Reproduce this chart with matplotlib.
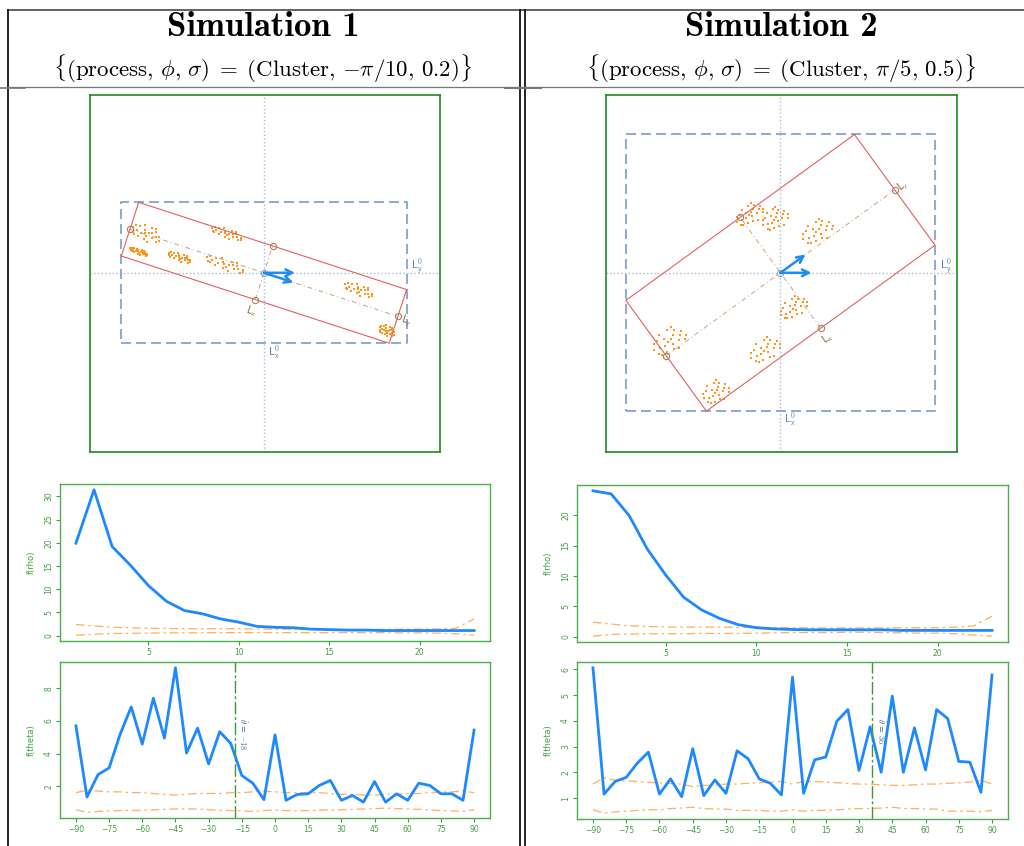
import os
import numpy as np
import matplotlib
matplotlib.use("Agg")
import matplotlib.pyplot as plt
from matplotlib.font_manager import FontProperties

plt.rcParams['mathtext.fontset'] = 'cm'

W, H = 1024, 846

# --- simulation settings ---------------------------------------------
sim_titles = ["Simulation 1", "Simulation 2"]
sim_params = [r"$\{(\mathrm{process},\,\phi,\,\sigma)\;=\;(\mathrm{Cluster},\,{-}\pi/10,\,0.2)\}$",
              r"$\{(\mathrm{process},\,\phi,\,\sigma)\;=\;(\mathrm{Cluster},\,\pi/5,\,0.5)\}$"]
phi_deg = [-18, 36]
rect_len = [2.0, 2.0]
rect_wid = [0.40, 0.97]
theta_hat = [-18, 36]

# cluster centres / half-extents / orientation (deg)
clusters1 = [(-0.84, 0.28, 0.11, 0.06, -18), (-0.89, 0.15, 0.07, 0.02, -18),
             (-0.60, 0.11, 0.09, 0.03, -18), (-0.28, 0.06, 0.15, 0.04, -18),
             (-0.27, 0.28, 0.12, 0.035, -18), (0.67, -0.12, 0.11, 0.04, -18),
             (0.87, -0.41, 0.06, 0.04, -18)]
clusters2 = [(-0.22, 0.41, 0.11, 0.07, 36), (-0.04, 0.38, 0.10, 0.08, 36),
             (0.26, 0.29, 0.12, 0.08, 36), (0.09, -0.25, 0.11, 0.07, 36),
             (-0.79, -0.49, 0.13, 0.09, 36), (-0.11, -0.55, 0.12, 0.08, 36),
             (-0.46, -0.85, 0.10, 0.08, 36)]
# point pattern inside a cluster (unit extents)
pattern = [(-0.9, 0.2), (-0.7, -0.5), (-0.5, 0.6), (-0.3, -0.1), (-0.1, 0.4),
           (0.0, -0.7), (0.2, 0.1), (0.3, 0.8), (0.5, -0.3), (0.6, 0.5),
           (0.8, -0.6), (0.9, 0.1), (-0.6, 0.0), (0.1, -0.3), (0.4, 0.3),
           (-0.2, 0.9), (0.7, -0.1), (-0.8, -0.3), (-0.4, -0.6), (0.25, -0.9),
           (-0.05, 0.0), (0.55, 0.85), (-0.75, 0.55), (0.95, -0.35)]

# --- K-function style curves ----------------------------------------
rho = list(range(1, 24))
rho1 = [19.9, 31.4, 19.2, 15.2, 10.8, 7.4, 5.4, 4.7, 3.6, 2.9, 2.0, 1.8, 1.7, 1.4,
        1.3, 1.2, 1.2, 1.1, 1.1, 1.1, 1.1, 1.1, 1.1]
rho1_hi = [2.4, 2.1, 1.8, 1.7, 1.6, 1.55, 1.5, 1.5, 1.5, 1.5, 1.45, 1.4, 1.4, 1.35,
           1.3, 1.3, 1.3, 1.35, 1.4, 1.4, 1.45, 1.6, 3.6]
rho1_lo = [0.1, 0.3, 0.45, 0.5, 0.55, 0.6, 0.6, 0.6, 0.65, 0.65, 0.65, 0.65, 0.65,
           0.65, 0.65, 0.65, 0.65, 0.65, 0.6, 0.6, 0.55, 0.4, 0.1]
rho2 = [24.0, 23.5, 19.9, 14.4, 10.2, 6.5, 4.4, 3.0, 2.0, 1.5, 1.3, 1.2, 1.15, 1.15,
        1.15, 1.15, 1.15, 1.05, 1.05, 1.05, 1.05, 1.05, 1.05]
rho2_hi = [2.4, 2.1, 1.8, 1.7, 1.6, 1.6, 1.6, 1.6, 1.55, 1.5, 1.5, 1.5, 1.45, 1.45,
           1.45, 1.45, 1.45, 1.5, 1.5, 1.5, 1.6, 1.8, 3.4]
rho2_lo = [0.1, 0.4, 0.45, 0.5, 0.5, 0.5, 0.55, 0.55, 0.55, 0.6, 0.65, 0.7, 0.7, 0.7,
           0.75, 0.75, 0.7, 0.65, 0.6, 0.6, 0.5, 0.3, 0.1]

theta = list(range(-90, 91, 5))
theta1 = [5.70, 1.33, 2.71, 3.12, 5.19, 6.86, 4.58, 7.39, 4.95, 9.26,
          4.03, 5.56, 3.36, 5.34, 4.62, 2.65, 2.18, 1.17, 5.15, 1.13,
          1.49, 1.53, 2.04, 2.35, 1.13, 1.43, 1.02, 2.28, 1.02, 1.53,
          1.13, 2.18, 2.04, 1.53, 1.53, 1.13, 5.44]
theta1_hi = [1.6, 1.75, 1.7, 1.65, 1.65, 1.6, 1.6, 1.55, 1.5, 1.45,
             1.5, 1.55, 1.55, 1.55, 1.6, 1.6, 1.65, 1.7, 1.65, 1.6,
             1.6, 1.6, 1.6, 1.55, 1.5, 1.5, 1.45, 1.45, 1.5, 1.5,
             1.55, 1.55, 1.6, 1.65, 1.65, 1.7, 1.6]
theta1_lo = [0.55, 0.4, 0.45, 0.48, 0.5, 0.52, 0.52, 0.55, 0.58, 0.6,
             0.6, 0.6, 0.55, 0.52, 0.5, 0.48, 0.45, 0.5, 0.55, 0.5,
             0.48, 0.5, 0.52, 0.55, 0.55, 0.58, 0.6, 0.62, 0.65, 0.62,
             0.6, 0.58, 0.55, 0.5, 0.48, 0.45, 0.55]
theta2 = [6.06, 1.16, 1.65, 1.81, 2.36, 2.79, 1.16, 1.75, 1.06, 2.92,
          1.10, 1.71, 1.19, 2.84, 2.53, 1.75, 1.58, 1.13, 5.70, 1.19,
          2.49, 2.60, 3.99, 4.44, 2.08, 3.77, 2.01, 4.96, 2.01, 3.73,
          2.10, 4.44, 4.09, 2.43, 2.40, 1.23, 5.78]
theta2_hi = [1.55, 1.8, 1.7, 1.68, 1.65, 1.62, 1.6, 1.57, 1.55, 1.45,
             1.5, 1.5, 1.55, 1.55, 1.58, 1.6, 1.63, 1.65, 1.55, 1.65,
             1.65, 1.62, 1.6, 1.57, 1.55, 1.55, 1.52, 1.5, 1.5, 1.52,
             1.55, 1.55, 1.58, 1.6, 1.63, 1.7, 1.55]
theta2_lo = [0.55, 0.42, 0.47, 0.5, 0.53, 0.55, 0.55, 0.6, 0.62, 0.65,
             0.6, 0.58, 0.58, 0.53, 0.53, 0.53, 0.5, 0.5, 0.55, 0.5,
             0.53, 0.53, 0.55, 0.58, 0.6, 0.6, 0.62, 0.65, 0.6, 0.6,
             0.58, 0.58, 0.5, 0.5, 0.5, 0.48, 0.53]

BLUE = '#1e88ff'
ORANGE = '#ffa040'
GREEN = '#4cae4c'
TICKGREEN = '#3f9f3f'

title_font = FontProperties(fname=os.path.join(matplotlib.get_data_path(),
                                               'fonts', 'ttf', 'cmb10.ttf'), size=25)

fig = plt.figure(figsize=(W / 100, H / 100), dpi=100)


def px_axes(x0, y0, x1, y1):
    return fig.add_axes([x0 / W, 1 - y1 / H, (x1 - x0) / W, (y1 - y0) / H])


# table rules
bg = fig.add_axes([0, 0, 1, 1])
bg.set_xlim(0, W)
bg.set_ylim(H, 0)
bg.axis('off')
bg.plot([8, W], [10, 10], color='#555555', lw=1.3)
bg.plot([8, 8], [10, H], color='black', lw=1.2)
bg.plot([520, 520], [10, H], color='black', lw=1.2)
bg.plot([525, 525], [10, H], color='black', lw=1.2)
bg.plot([8, W], [87, 87], color='#777777', lw=0.9)
bg.plot([0, 25], [88.5, 88.5], color='#777777', lw=1.2)
bg.plot([505, 541], [88.5, 88.5], color='#777777', lw=1.5)

for cx, title, sub in zip([263, 781], sim_titles, sim_params):
    fig.text(cx / W, 1 - 28 / H, title, ha='center', va='center',
             fontproperties=title_font)
    fig.text(cx / W, 1 - 69 / H, sub, ha='center', va='center', fontsize=16.5)


def draw_window(ax, phi, L, w, clusters):
    a = np.deg2rad(phi)
    u = np.array([np.cos(a), np.sin(a)])
    v = np.array([-np.sin(a), np.cos(a)])
    corners = [s1 * L / 2 * u + s2 * w / 2 * v for s1, s2 in [(1, 1), (-1, 1), (-1, -1), (1, -1), (1, 1)]]
    corners = np.array(corners)
    xmax, ymax = corners[:, 0].max(), corners[:, 1].max()

    ax.axvline(0, color='#a8bcd8', ls=':', lw=1)
    ax.axhline(0, color='#a8bcd8', ls=':', lw=1)
    ax.plot([-xmax, xmax, xmax, -xmax, -xmax], [-ymax, -ymax, ymax, ymax, -ymax],
            color='#7a9cc6', ls=(0, (6, 3)), lw=1.2)
    ax.plot(corners[:, 0], corners[:, 1], color='#e06060', lw=0.8)

    # principal axes of the rotated window
    for d, half in [(u, L / 2), (v, w / 2)]:
        ax.plot([-half * d[0], half * d[0]], [-half * d[1], half * d[1]],
                color='#c9a27a', ls=(0, (5, 3, 1, 3)), lw=0.7)
        for s in (-1, 1):
            ax.plot(s * half * d[0], s * half * d[1], 'o', ms=4.5, mfc='none',
                    mec='#b08060', mew=0.8)
    ax.plot(0, 0, 'o', ms=4.5, mfc='none', mec='#8aa8cc', mew=0.8)

    # cluster points
    for cx, cy, ca, cb, cang in clusters:
        t = np.deg2rad(cang)
        ox = np.array([p[0] for p in pattern]) * ca
        oy = np.array([p[1] for p in pattern]) * cb
        px = cx + ox * np.cos(t) - oy * np.sin(t)
        py = cy + ox * np.sin(t) + oy * np.cos(t)
        ax.scatter(px, py, s=2.5, color='#ff9418', marker='s', linewidths=0)

    # direction arrows
    for ang in (0, phi):
        r = np.deg2rad(ang)
        ax.annotate('', xy=(0.22 * np.cos(r), 0.22 * np.sin(r)), xytext=(0, 0),
                    arrowprops=dict(arrowstyle='->', color='#1e8cf0', lw=1.8,
                                    mutation_scale=12, shrinkA=0, shrinkB=0))

    lp = (L / 2 + 0.065) * u - 0.015 * v
    ax.text(lp[0], lp[1], r"$\mathsf{L_y}$", color='#8b5a2b', fontsize=7, rotation=phi,
            ha='center', va='center')
    lp = -(w / 2 + 0.085) * v
    ax.text(lp[0], lp[1], r"$\mathsf{L_x}$", color='#8b5a2b', fontsize=7, rotation=phi,
            ha='center', va='center')
    ax.text(0.07, -ymax - 0.06, r"$\mathsf{L_x^0}$", color='#5b84b1', fontsize=8,
            ha='center', va='center')
    ax.text(xmax + 0.075, 0.04, r"$\mathsf{L_y^0}$", color='#5b84b1', fontsize=8,
            ha='center', va='center')

    ax.set_xlim(-1.235, 1.25)
    ax.set_ylim(-1.27, 1.26)
    ax.set_xticks([])
    ax.set_yticks([])
    for sp in ax.spines.values():
        sp.set_color('#1f8a1f')
        sp.set_linewidth(1.2)


def style_curve_axes(ax, ylabel):
    for sp in ax.spines.values():
        sp.set_color(GREEN)
        sp.set_linewidth(1.0)
    ax.tick_params(colors=TICKGREEN, labelsize=5.5, length=3, width=0.8, pad=2)
    for lab in ax.get_yticklabels():
        lab.set_rotation(90)
        lab.set_va('center')
    ax.set_ylabel(ylabel, color=TICKGREEN, fontsize=6, labelpad=6)


def r_range(*series):
    lo = min(min(s) for s in series)
    hi = max(max(s) for s in series)
    pad = 0.04 * (hi - lo)
    return lo - pad, hi + pad


def draw_rho(ax, y, hi, lo, yticks):
    ax.plot(rho, hi, color=ORANGE, ls=(0, (7, 3, 2, 3)), lw=0.9, alpha=0.85)
    ax.plot(rho, lo, color=ORANGE, ls=(0, (7, 3, 2, 3)), lw=0.9, alpha=0.85)
    ax.plot(rho, y, color=BLUE, lw=2)
    ax.set_xlim(1 - 0.88, 23 + 0.88)
    ax.set_ylim(*r_range(y, hi, lo))
    ax.set_xticks([5, 10, 15, 20])
    ax.set_yticks(yticks)
    style_curve_axes(ax, 'f(rho)')


def draw_theta(ax, y, hi, lo, yticks, th, lab_y):
    ax.plot(theta, hi, color=ORANGE, ls=(0, (7, 3, 2, 3)), lw=0.9, alpha=0.85)
    ax.plot(theta, lo, color=ORANGE, ls=(0, (7, 3, 2, 3)), lw=0.9, alpha=0.85)
    ax.plot(theta, y, color=BLUE, lw=2)
    ax.axvline(th, color='#3a9a3a', ls=(0, (9, 2, 2, 2)), lw=1)
    ax.text(th + 3.8, lab_y, r"$\hat{\theta}$ = $%d$" % th, rotation=-90,
            color='#4a6a90', fontsize=6, ha='center', va='center')
    ax.set_xlim(-90 - 7.2, 90 + 7.2)
    ax.set_ylim(*r_range(y, hi, lo))
    ax.set_xticks(range(-90, 91, 15))
    ax.set_yticks(yticks)
    style_curve_axes(ax, 'f(theta)')


draw_window(px_axes(90, 95, 440, 452), phi_deg[0], rect_len[0], rect_wid[0], clusters1)
draw_window(px_axes(606, 95, 957, 452), phi_deg[1], rect_len[1], rect_wid[1], clusters2)

draw_rho(px_axes(60, 484, 490, 641), rho1, rho1_hi, rho1_lo, [0, 5, 10, 15, 20, 25, 30])
draw_rho(px_axes(577, 485, 1008, 642), rho2, rho2_hi, rho2_lo, [0, 5, 10, 15, 20])

draw_theta(px_axes(60, 662, 490, 818), theta1, theta1_hi, theta1_lo, [2, 4, 6, 8],
           theta_hat[0], 5.2)
draw_theta(px_axes(577, 662, 1008, 819), theta2, theta2_hi, theta2_lo, [1, 2, 3, 4, 5, 6],
           theta_hat[1], 3.6)

fig.savefig('out.png', dpi=100)
